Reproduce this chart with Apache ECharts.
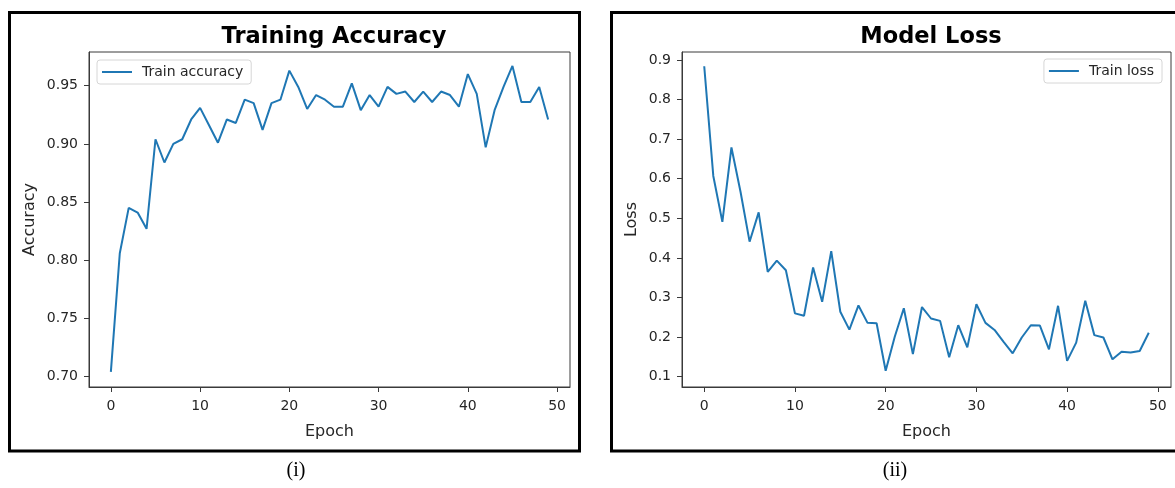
<!DOCTYPE html>
<html>
<head>
<meta charset="utf-8">
<script src="https://cdn.jsdelivr.net/npm/echarts@6/dist/echarts.min.js"></script>
<style>
html,body{margin:0;padding:0;background:#fff;}
#chart{width:1175px;height:488px;}
</style>
</head>
<body>
<div id="chart"></div>
<script>
// ---- data ----
const epochs = [0,1,2,3,4,5,6,7,8,9,10,11,12,13,14,15,16,17,18,19,20,21,22,23,24,25,26,27,28,29,30,31,32,33,34,35,36,37,38,39,40,41,42,43,44,45,46,47,48,49];
const trainAccuracy = [0.704,0.806,0.845,0.841,0.827,0.904,0.884,0.900,0.904,0.921,0.931,0.916,0.901,0.921,0.918,0.938,0.935,0.912,0.935,0.938,0.963,0.949,0.930,0.942,0.938,0.932,0.932,0.952,0.929,0.942,0.932,0.949,0.943,0.945,0.936,0.945,0.936,0.945,0.942,0.932,0.960,0.943,0.897,0.929,0.949,0.967,0.936,0.936,0.949,0.921];
const trainLoss = [0.884,0.607,0.491,0.679,0.567,0.441,0.515,0.365,0.393,0.369,0.260,0.254,0.376,0.289,0.417,0.264,0.219,0.280,0.236,0.235,0.115,0.201,0.273,0.157,0.276,0.247,0.241,0.149,0.230,0.174,0.283,0.236,0.218,0.188,0.159,0.199,0.230,0.229,0.169,0.279,0.140,0.186,0.292,0.205,0.199,0.144,0.163,0.161,0.165,0.211];
const epochTicks = [0,10,20,30,40,50];
const accTicks = [0.70,0.75,0.80,0.85,0.90,0.95];
const lossTicks = [0.1,0.2,0.3,0.4,0.5,0.6,0.7,0.8,0.9];
const titles = ['Training Accuracy','Model Loss'];
const yNames = ['Accuracy','Loss'];
const seriesNames = ['Train accuracy','Train loss'];
const captions = ['(i)','(ii)'];

const FONT = 'DejaVu Sans';
const LINE = '#1f77b4';
const AX = '#3a3a3a';
const LBL = '#262626';

function xAxisCfg(gi){
  return {
    gridIndex: gi, type:'value', min:-2.45, max:51.45,
    name:'Epoch', nameLocation:'middle', nameGap:37,
    nameTextStyle:{fontFamily:FONT,fontSize:16,color:LBL},
    axisLine:{show:true,onZero:false,lineStyle:{color:AX,width:1}},
    axisTick:{show:true,length:5,inside:false,customValues:epochTicks,lineStyle:{color:AX}},
    axisLabel:{customValues:epochTicks,margin:12,fontFamily:FONT,fontSize:14,color:LBL},
    splitLine:{show:false}
  };
}
function yAxisCfg(gi,min,max,ticks,dec,gap){
  return {
    gridIndex: gi, type:'value', min:min, max:max,
    name:yNames[gi], nameLocation:'middle', nameGap:gap, nameRotate:90,
    nameTextStyle:{fontFamily:FONT,fontSize:16,color:LBL},
    axisLine:{show:true,onZero:false,lineStyle:{color:AX,width:1}},
    axisTick:{show:true,length:5,customValues:ticks,lineStyle:{color:AX}},
    axisLabel:{customValues:ticks,margin:11,fontFamily:FONT,fontSize:14,color:LBL,
      formatter:function(v){return v.toFixed(dec);}},
    splitLine:{show:false}
  };
}
function legendCfg(name,pos){
  return Object.assign({
    data:[{name:name,icon:'rect'}],
    itemWidth:30, itemHeight:2,
    padding:[5,8,5,5],
    borderColor:'#d6d6d6', borderWidth:1, borderRadius:3,
    backgroundColor:'rgba(255,255,255,0.85)',
    textStyle:{fontFamily:FONT,fontSize:14,color:LBL,padding:[0,0,0,5]}
  },pos);
}

const chart = echarts.init(document.getElementById('chart'),null,{renderer:'canvas'});
chart.setOption({
  animation:false,
  backgroundColor:'#fff',
  title:[
    {text:titles[0],left:329,top:21,textAlign:'center',
     textStyle:{fontFamily:FONT,fontSize:22.5,fontWeight:'bold',color:'#000'}},
    {text:titles[1],left:926,top:21,textAlign:'center',
     textStyle:{fontFamily:FONT,fontSize:22.5,fontWeight:'bold',color:'#000'}}
  ],
  legend:[
    legendCfg(seriesNames[0],{left:97,top:60}),
    legendCfg(seriesNames[1],{right:13,top:59})
  ],
  grid:[
    {left:89,top:52,width:481,height:335,show:true,borderColor:AX,borderWidth:1,backgroundColor:'transparent'},
    {left:682,top:52,width:489,height:335,show:true,borderColor:AX,borderWidth:1,backgroundColor:'transparent'}
  ],
  xAxis:[xAxisCfg(0),xAxisCfg(1)],
  yAxis:[
    yAxisCfg(0,0.691,0.979,accTicks,2,51),
    yAxisCfg(1,0.074,0.920,lossTicks,1,42)
  ],
  series:[
    {name:seriesNames[0],type:'line',xAxisIndex:0,yAxisIndex:0,
     data:epochs.map((e,i)=>[e,trainAccuracy[i]]),
     showSymbol:false,symbol:'none',lineStyle:{color:LINE,width:2},itemStyle:{color:LINE}},
    {name:seriesNames[1],type:'line',xAxisIndex:1,yAxisIndex:1,
     data:epochs.map((e,i)=>[e,trainLoss[i]]),
     showSymbol:false,symbol:'none',lineStyle:{color:LINE,width:2},itemStyle:{color:LINE}}
  ],
  graphic:[
    {type:'rect',shape:{x:9.5,y:12.5,width:570,height:438.5},
     style:{fill:'none',stroke:'#000',lineWidth:3},silent:true},
    {type:'rect',shape:{x:611.5,y:12.5,width:570,height:438.5},
     style:{fill:'none',stroke:'#000',lineWidth:3},silent:true},
    {type:'text',x:296,y:471,
     style:{text:captions[0],font:'20px "Liberation Serif"',fill:'#000',textAlign:'center',textVerticalAlign:'middle'}},
    {type:'text',x:895,y:471,
     style:{text:captions[1],font:'20px "Liberation Serif"',fill:'#000',textAlign:'center',textVerticalAlign:'middle'}}
  ]
});
</script>
</body>
</html>
